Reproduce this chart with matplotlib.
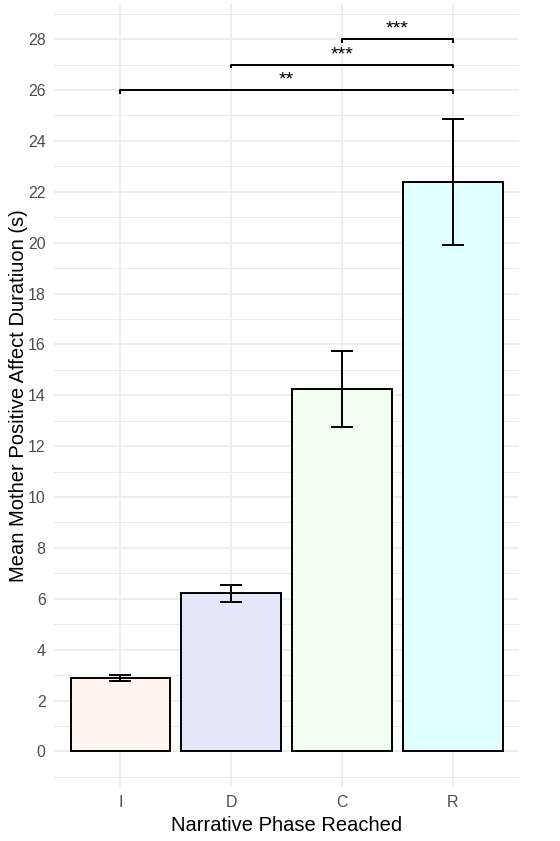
import matplotlib
matplotlib.use("Agg")
import matplotlib.pyplot as plt
import numpy as np

categories = ["I", "D", "C", "R"]
means = [2.89, 6.22, 14.25, 22.39]
errors = [0.12, 0.34, 1.50, 2.48]
fills = ["#FFF5EE", "#E6E6FA", "#F0FFF0", "#E0FFFF"]

# significance brackets: (start index, end index, y, label)
bracket_start = [0, 1, 2]
bracket_end = [3, 3, 3]
bracket_y = [26.0, 27.0, 28.0]
bracket_labels = ["**", "***", "***"]

plt.rcParams['font.family'] = ['Liberation Sans', 'DejaVu Sans']

fig = plt.figure(figsize=(5.6, 8.41), dpi=100)
ax = fig.add_axes([0.0964, 0.0645, 0.8306, 0.9313])

x = np.arange(len(categories))
ax.bar(x, means, width=0.9, color=fills, edgecolor="black", linewidth=1.4, zorder=2)
ax.errorbar(x, means, yerr=errors, fmt="none", ecolor="black", elinewidth=1.4,
            capsize=8, capthick=1.4, zorder=3)

tip = 0.15
for s, e, y, lab in zip(bracket_start, bracket_end, bracket_y, bracket_labels):
    ax.plot([x[s], x[s], x[e], x[e]], [y - tip, y, y, y - tip], color="black",
            linewidth=1.4, zorder=3, solid_capstyle="butt")
    ax.text((x[s] + x[e]) / 2, y + 0.05, lab, ha="center", va="bottom",
            fontsize=14, color="black")

ax.set_xlim(-0.6, 3.6)
ax.set_ylim(-1.39, 29.4)
ax.set_xticks(x)
ax.set_xticklabels(categories)
ax.set_yticks(np.arange(0, 29, 2))
ax.set_yticks(np.arange(-1, 30, 2), minor=True)
ax.set_xticks(np.arange(-0.5, 4, 1), minor=True)

ax.grid(which="major", color="#EBEBEB", linewidth=1.2, zorder=0)
ax.grid(which="minor", axis="y", color="#EBEBEB", linewidth=0.7, zorder=0)
ax.set_axisbelow(True)
for sp in ax.spines.values():
    sp.set_visible(False)
ax.tick_params(which="both", length=0)
ax.tick_params(axis="both", labelsize=11.5, labelcolor="#4D4D4D", pad=6)

ax.set_xlabel("Narrative Phase Reached", fontsize=14.5, color="black", labelpad=4)
ax.set_ylabel("Mean Mother Positive Affect Duratiuon (s)", fontsize=14.5,
              color="black", labelpad=-0.5)

fig.savefig("out.png", dpi=100, facecolor="white")
